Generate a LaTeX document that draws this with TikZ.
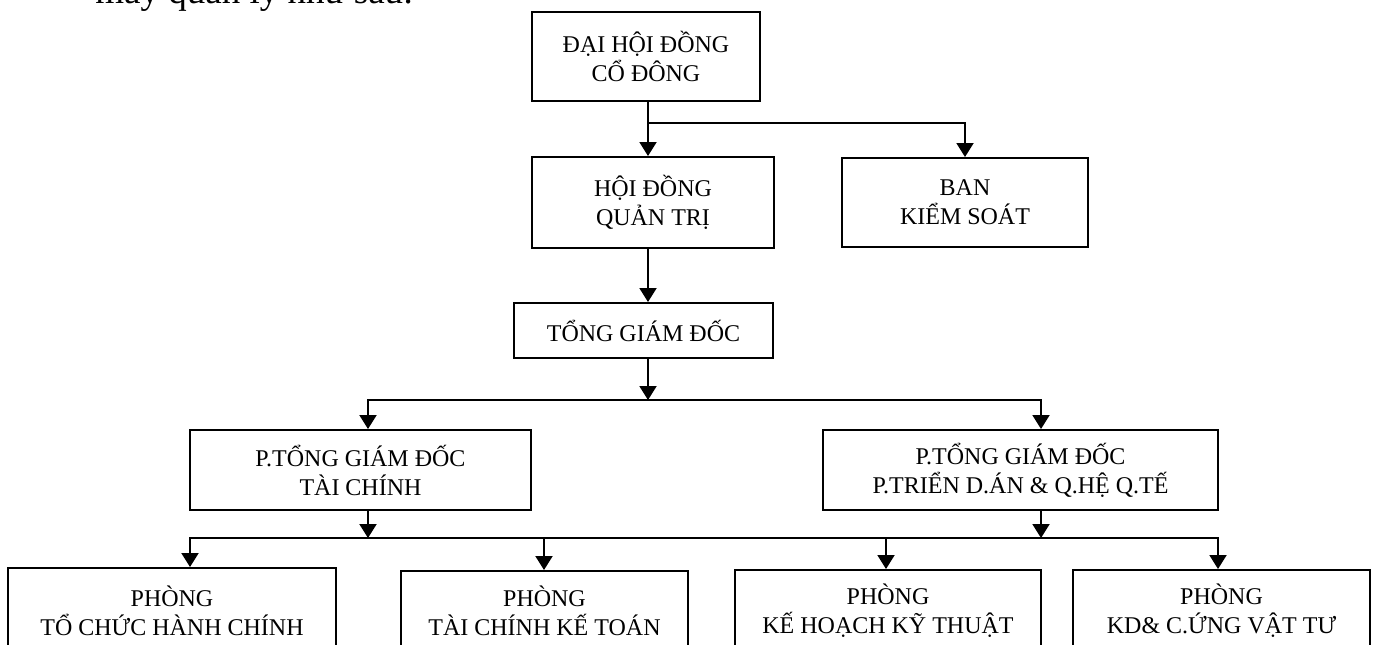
\documentclass[tikz,border=0pt]{standalone}
\usepackage{fontspec}
\setmainfont{Liberation Serif}
\usetikzlibrary{arrows.meta}
\begin{document}
\begin{tikzpicture}[x=0.5pt,y=-0.5pt,
  box/.style={draw,line width=1pt,align=center,font=\fontsize{12}{14.5}\selectfont,inner sep=0pt},
  arr/.style={line width=1pt,line join=miter,-{Triangle[width=8.5pt,length=7pt]}},
  ln/.style={line width=1pt}]
\useasboundingbox (0,0) rectangle (1380,644);
\clip (0,0) rectangle (1380,644);
\node[anchor=base west,inner sep=0pt,font=\fontsize{18.5}{20}\selectfont] (intro) at (95,3) {máy quản lý như sau:};
% boxes
\node[box,minimum width=114pt,minimum height=44.5pt] (A) at (646,56.5) {ĐẠI HỘI ĐỒNG\\CỔ ĐÔNG};
\node[box,minimum width=121pt,minimum height=45.5pt] (B) at (653,202.5) {HỘI ĐỒNG\\QUẢN TRỊ};
\node[box,minimum width=123pt,minimum height=44.5pt] (C) at (965,202.5) {BAN\\KIỂM SOÁT};
\node[box,minimum width=129.5pt,minimum height=27.5pt] (D) at (643.5,330.5) {TỔNG GIÁM ĐỐC};
\node[box,minimum width=170.5pt,minimum height=40pt] (E) at (360.5,470) {P.TỔNG GIÁM ĐỐC\\TÀI CHÍNH};
\node[box,minimum width=197.5pt,minimum height=40pt] (F) at (1020.5,470) {P.TỔNG GIÁM ĐỐC\\P.TRIỂN D.ÁN \& Q.HỆ Q.TẾ};
\node[box,minimum width=164pt,minimum height=43pt] (G1) at (172,611) {PHÒNG\\TỔ CHỨC HÀNH CHÍNH};
\node[box,minimum width=143.5pt,minimum height=40pt] (G2) at (544.5,611) {PHÒNG\\TÀI CHÍNH KẾ TOÁN};
\node[box,minimum width=153pt,minimum height=41pt] (G3) at (888,611) {PHÒNG\\KẾ HOẠCH KỸ THUẬT};
\node[box,minimum width=148.5pt,minimum height=41pt] (G4) at (1221.5,611) {PHÒNG\\KD\& C.ỨNG VẬT TƯ};
% connectors
\coordinate (xa) at (648,0);
\coordinate (j1) at (648,123);
\coordinate (j2) at (648,400);
\coordinate (e1) at (368,400);
\coordinate (f1) at (1041,400);
\coordinate (k1) at (368,538);
\coordinate (k2) at (1041,538);
\coordinate (g1) at (190,538);
\coordinate (g2) at (544,538);
\coordinate (g3) at (886,538);
\coordinate (g4) at (1218,538);
\draw[arr] (A.south -| xa) -- (B.north -| xa);
\draw[arr] (j1) -| (C.north);
\draw[arr] (B.south -| xa) -- (D.north -| xa);
\draw[arr] (D.south -| xa) -- (j2);
\draw[arr] (j2) -- (e1) -- (E.north -| e1);
\draw[arr] (j2) -- (f1) -- (F.north -| f1);
\draw[arr] (E.south -| k1) -- (k1);
\draw[arr] (F.south -| k2) -- (k2);
\draw[arr] (k1) -- (g1) -- (G1.north -| g1);
\draw[arr] (k1) -- (g4) -- (G4.north -| g4);
\draw[arr] (g2) -- (G2.north -| g2);
\draw[arr] (g3) -- (G3.north -| g3);
\end{tikzpicture}
\end{document}
